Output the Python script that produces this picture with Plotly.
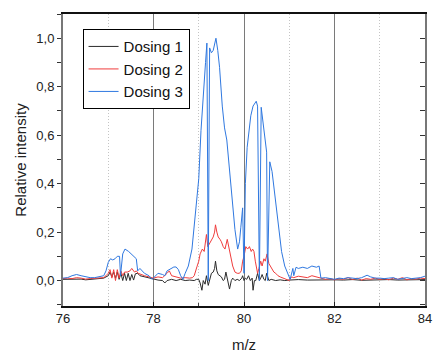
import plotly.graph_objects as go

# ---------------- data ----------------
d1_x = [76.0, 76.1, 76.2, 76.3, 76.4, 76.5, 76.6, 76.7, 76.8, 76.9, 76.95, 77.0, 77.04, 77.08, 77.12, 77.16,
        77.2, 77.24, 77.28, 77.32, 77.36, 77.4, 77.44, 77.48, 77.52, 77.56, 77.6, 77.65, 77.7, 77.8, 77.9,
        78.0, 78.1, 78.2, 78.25, 78.3, 78.4, 78.5, 78.6, 78.7, 78.8, 78.9, 78.95, 79.0, 79.03, 79.07, 79.1,
        79.14, 79.17, 79.21, 79.25, 79.28, 79.32, 79.35, 79.37, 79.4, 79.43, 79.47, 79.5, 79.54, 79.57, 79.6,
        79.64, 79.68, 79.72, 79.75, 79.8, 79.85, 79.9, 79.95, 79.97, 80.0, 80.03, 80.06, 80.1, 80.14, 80.18,
        80.2, 80.23, 80.26, 80.3, 80.34, 80.37, 80.4, 80.44, 80.47, 80.5, 80.55, 80.6, 80.7, 80.8, 80.9,
        81.0, 81.2, 81.4, 81.6, 81.8, 82.0, 82.2, 82.4, 82.6, 82.8, 83.0, 83.2, 83.4, 83.6, 83.8, 84.0]
d1_y = [0.005, 0.006, 0.004, 0.008, 0.006, 0.003, 0.005, 0.006, 0.008, 0.01, 0.015, 0.02, 0.035, 0.015, 0.035, 0.01,
        0.035, 0.005, 0.03, 0.0, 0.03, 0.0, 0.03, 0.0, 0.025, 0.002, 0.028, 0.03, 0.02, 0.015, 0.01,
        0.005, 0.002, 0.0, -0.01, 0.0, 0.005, 0.0, 0.005, 0.0, 0.002, 0.0, 0.005, 0.005, -0.01, -0.04, 0.0,
        -0.015, 0.02, -0.02, 0.015, 0.03, 0.035, 0.05, 0.08, 0.04, 0.025, 0.02, 0.015, 0.0, 0.005, 0.035,
        0.0, -0.035, 0.0, 0.01, 0.0, 0.005, 0.0, 0.01, 0.02, 0.0, 0.01, 0.005, 0.02, 0.0, 0.01,
        -0.04, 0.0, 0.0, 0.03, 0.0, 0.01, 0.025, 0.005, 0.0, 0.03, 0.0, 0.005, 0.0, 0.003, 0.0,
        0.002, 0.004, 0.002, 0.003, 0.001, 0.003, 0.002, 0.004, 0.001, 0.003, 0.002, 0.004, 0.002, 0.003, 0.002, 0.004]

d2_x = [76.0, 76.1, 76.2, 76.3, 76.4, 76.5, 76.6, 76.7, 76.8, 76.9, 76.95, 77.0, 77.04, 77.08, 77.12, 77.16,
        77.2, 77.24, 77.28, 77.32, 77.36, 77.42, 77.48, 77.52, 77.58, 77.62, 77.66, 77.72, 77.8, 77.9,
        78.0, 78.1, 78.2, 78.3, 78.35, 78.4, 78.5, 78.6, 78.7, 78.8, 78.86, 78.9, 78.96, 79.0, 79.03, 79.08,
        79.12, 79.14, 79.17, 79.2, 79.23, 79.28, 79.32, 79.35, 79.37, 79.4, 79.43, 79.47, 79.5, 79.54, 79.58,
        79.63, 79.66, 79.68, 79.72, 79.75, 79.8, 79.85, 79.9, 79.94, 79.97, 80.0, 80.04, 80.08, 80.12, 80.16,
        80.19, 80.22, 80.25, 80.28, 80.3, 80.33, 80.37, 80.4, 80.44, 80.47, 80.51, 80.55, 80.58, 80.62, 80.66,
        80.7, 80.75, 80.8, 80.9, 81.0, 81.05, 81.1, 81.2, 81.3, 81.4, 81.5, 81.6, 81.7, 81.8, 81.9,
        82.0, 82.1, 82.2, 82.3, 82.4, 82.5, 82.6, 82.7, 82.8, 82.9, 83.0, 83.1, 83.2, 83.3, 83.4,
        83.5, 83.6, 83.7, 83.8, 83.9, 84.0]
d2_y = [0.008, 0.01, 0.008, 0.012, 0.01, 0.006, 0.008, 0.01, 0.01, 0.012, 0.02, 0.03, 0.045, 0.01, 0.045, 0.0,
        0.045, 0.01, 0.04, 0.02, 0.035, 0.035, 0.04, 0.05, 0.035, 0.04, 0.03, 0.025, 0.02, 0.015,
        0.01, 0.015, 0.012, 0.03, 0.04, 0.02, 0.015, 0.01, 0.012, 0.01, 0.012, 0.02, 0.057, 0.08, 0.11, 0.13,
        0.12, 0.15, 0.19, 0.14, 0.15, 0.17, 0.18, 0.2, 0.23, 0.2, 0.18, 0.17, 0.16, 0.14, 0.13,
        0.17, 0.14, 0.12, 0.09, 0.06, 0.035, 0.03, 0.03, 0.04, 0.08, 0.1, 0.14, 0.13, 0.14, 0.12,
        0.13, 0.12, 0.08, 0.05, 0.03, 0.05, 0.08, 0.06, 0.09, 0.08, 0.11, 0.07, 0.06, 0.05, 0.035,
        0.03, 0.02, 0.015, 0.008, 0.0, 0.015, 0.012, 0.018, 0.015, 0.012, 0.02, 0.015, 0.01, 0.005, 0.008,
        0.003, 0.008, 0.005, 0.012, 0.004, 0.01, 0.002, 0.008, 0.005, 0.01, 0.005, 0.008, 0.003, 0.01, 0.005,
        0.012, 0.003, 0.008, 0.006, 0.01, 0.008]

d3_x = [76.0, 76.1, 76.2, 76.3, 76.4, 76.5, 76.6, 76.7, 76.8, 76.9, 76.95, 77.0, 77.05, 77.1, 77.15, 77.2,
        77.25, 77.27, 77.32, 77.37, 77.45, 77.55, 77.62, 77.65, 77.7, 77.8, 77.9, 77.97, 78.05, 78.1, 78.2,
        78.25, 78.3, 78.4, 78.45, 78.5, 78.55, 78.6, 78.65, 78.7, 78.77, 78.85, 78.9, 78.95, 79.0, 79.05,
        79.1, 79.15, 79.18, 79.21, 79.24, 79.28, 79.32, 79.35, 79.38, 79.42, 79.46, 79.52, 79.57, 79.62,
        79.66, 79.7, 79.75, 79.8, 79.86, 79.9, 79.93, 79.97, 80.0, 80.03, 80.07, 80.11, 80.15, 80.2, 80.27,
        80.3, 80.34, 80.38, 80.44, 80.5, 80.52, 80.57, 80.62, 80.69, 80.76, 80.83, 80.9, 80.98, 81.02,
        81.08, 81.1, 81.15, 81.2, 81.3, 81.4, 81.5, 81.6, 81.66, 81.7, 81.8, 81.9, 82.0, 82.1, 82.2, 82.3,
        82.4, 82.5, 82.6, 82.65, 82.72, 82.8, 82.9, 83.0, 83.1, 83.2, 83.3, 83.4, 83.5, 83.6, 83.7, 83.8,
        83.9, 84.0]
d3_y = [0.01, 0.012, 0.02, 0.025, 0.02, 0.015, 0.012, 0.012, 0.015, 0.02, 0.04, 0.075, 0.09, 0.085, 0.09, 0.1,
        0.1, 0.02, 0.11, 0.13, 0.12, 0.1, 0.09, 0.04, 0.05, 0.03, 0.02, 0.005, 0.02, 0.03, 0.025,
        0.02, 0.04, 0.05, 0.056, 0.056, 0.045, 0.02, 0.005, 0.03, 0.06, 0.13, 0.22, 0.32, 0.42, 0.62,
        0.78, 0.9, 0.98, 0.0, 0.96, 0.94, 0.95, 0.98, 1.0, 0.95, 0.88, 0.72, 0.63, 0.58,
        0.5, 0.42, 0.31, 0.21, 0.13, 0.16, 0.22, 0.3, 0.03, 0.4, 0.55, 0.63, 0.68, 0.72, 0.74,
        0.72, 0.0, 0.715, 0.63, 0.53, 0.0, 0.49, 0.45, 0.34, 0.23, 0.12, 0.06, 0.02, 0.005,
        0.05, 0.02, 0.055, 0.05, 0.055, 0.05, 0.06, 0.055, 0.06, 0.01, 0.012, 0.008, 0.005, 0.01, 0.008, 0.012,
        0.01, 0.008, 0.012, 0.015, 0.022, 0.015, 0.01, 0.01, 0.008, 0.01, 0.012, 0.005, 0.01, 0.012, 0.008, 0.01,
        0.012, 0.018]

names = ["Dosing 1", "Dosing 2", "Dosing 3"]
colors = ["#2b2b2b", "#f03c3c", "#2f78e0"]
series = [(d1_x, d1_y), (d2_x, d2_y), (d3_x, d3_y)]

y_ticks = [0.0, 0.2, 0.4, 0.6, 0.8, 1.0]
x_ticks = [76, 78, 80, 82, 84]

# ---------------- figure ----------------
fig = go.Figure()
for (xs, ys), nm, c in zip(series, names, colors):
    fig.add_trace(go.Scatter(x=xs, y=ys, mode="lines", name=nm,
                             line=dict(color=c, width=1)))

# invisible carrier so the right-hand (mirrored, inward-tick) axis is drawn
fig.add_trace(go.Scatter(x=d1_x, y=d1_y, yaxis="y2", mode="lines", showlegend=False,
                         opacity=0, hoverinfo="skip", line=dict(width=0)))

font_family = "Liberation Sans, Arial, sans-serif"
yr = [-0.105, 1.10]

fig.update_layout(
    width=437, height=356,
    margin=dict(l=63, r=5, t=14, b=43),
    paper_bgcolor="white", plot_bgcolor="white",
    separators=",.",
    font=dict(family=font_family, size=13, color="#222"),
    legend=dict(x=0.054, y=0.948, xanchor="left", yanchor="top",
                bordercolor="black", borderwidth=1, bgcolor="white",
                font=dict(size=15, color="#111"), tracegroupgap=0,
                itemwidth=30),
    xaxis=dict(range=[76, 84], tickvals=x_ticks, ticks="inside", ticklen=4,
               tickcolor="#222", showline=True, linecolor="#111", linewidth=1.5,
               mirror=True, showgrid=True, gridcolor="#7a7a7a", gridwidth=1,
               zeroline=False, ticklabeloverflow="allow",
               minor=dict(dtick=1, tick0=76, showgrid=True, gridcolor="#c4c4c4",
                          griddash="1px,2px", ticks="inside", ticklen=3, tickcolor="#444"),
               title=dict(text="m/z", font=dict(size=15), standoff=14)),
    yaxis=dict(range=yr, tickvals=y_ticks, tickformat=".1f", ticks="outside", ticklen=4,
               tickcolor="#333", showline=True, linecolor="#777", linewidth=2,
               mirror=True, showgrid=False, zeroline=False,
               minor=dict(dtick=0.1, tick0=0, ticks="outside", ticklen=4, tickcolor="#333"),
               title=dict(text="Relative intensity", font=dict(size=15), standoff=6)),
    yaxis2=dict(range=yr, overlaying="y", side="right", tickvals=y_ticks,
                showticklabels=False, ticks="inside", ticklen=5, tickcolor="#333",
                showgrid=False, zeroline=False, showline=False,
                minor=dict(dtick=0.1, tick0=0, ticks="inside", ticklen=5, tickcolor="#333")),
)

fig.write_html("out.html")
